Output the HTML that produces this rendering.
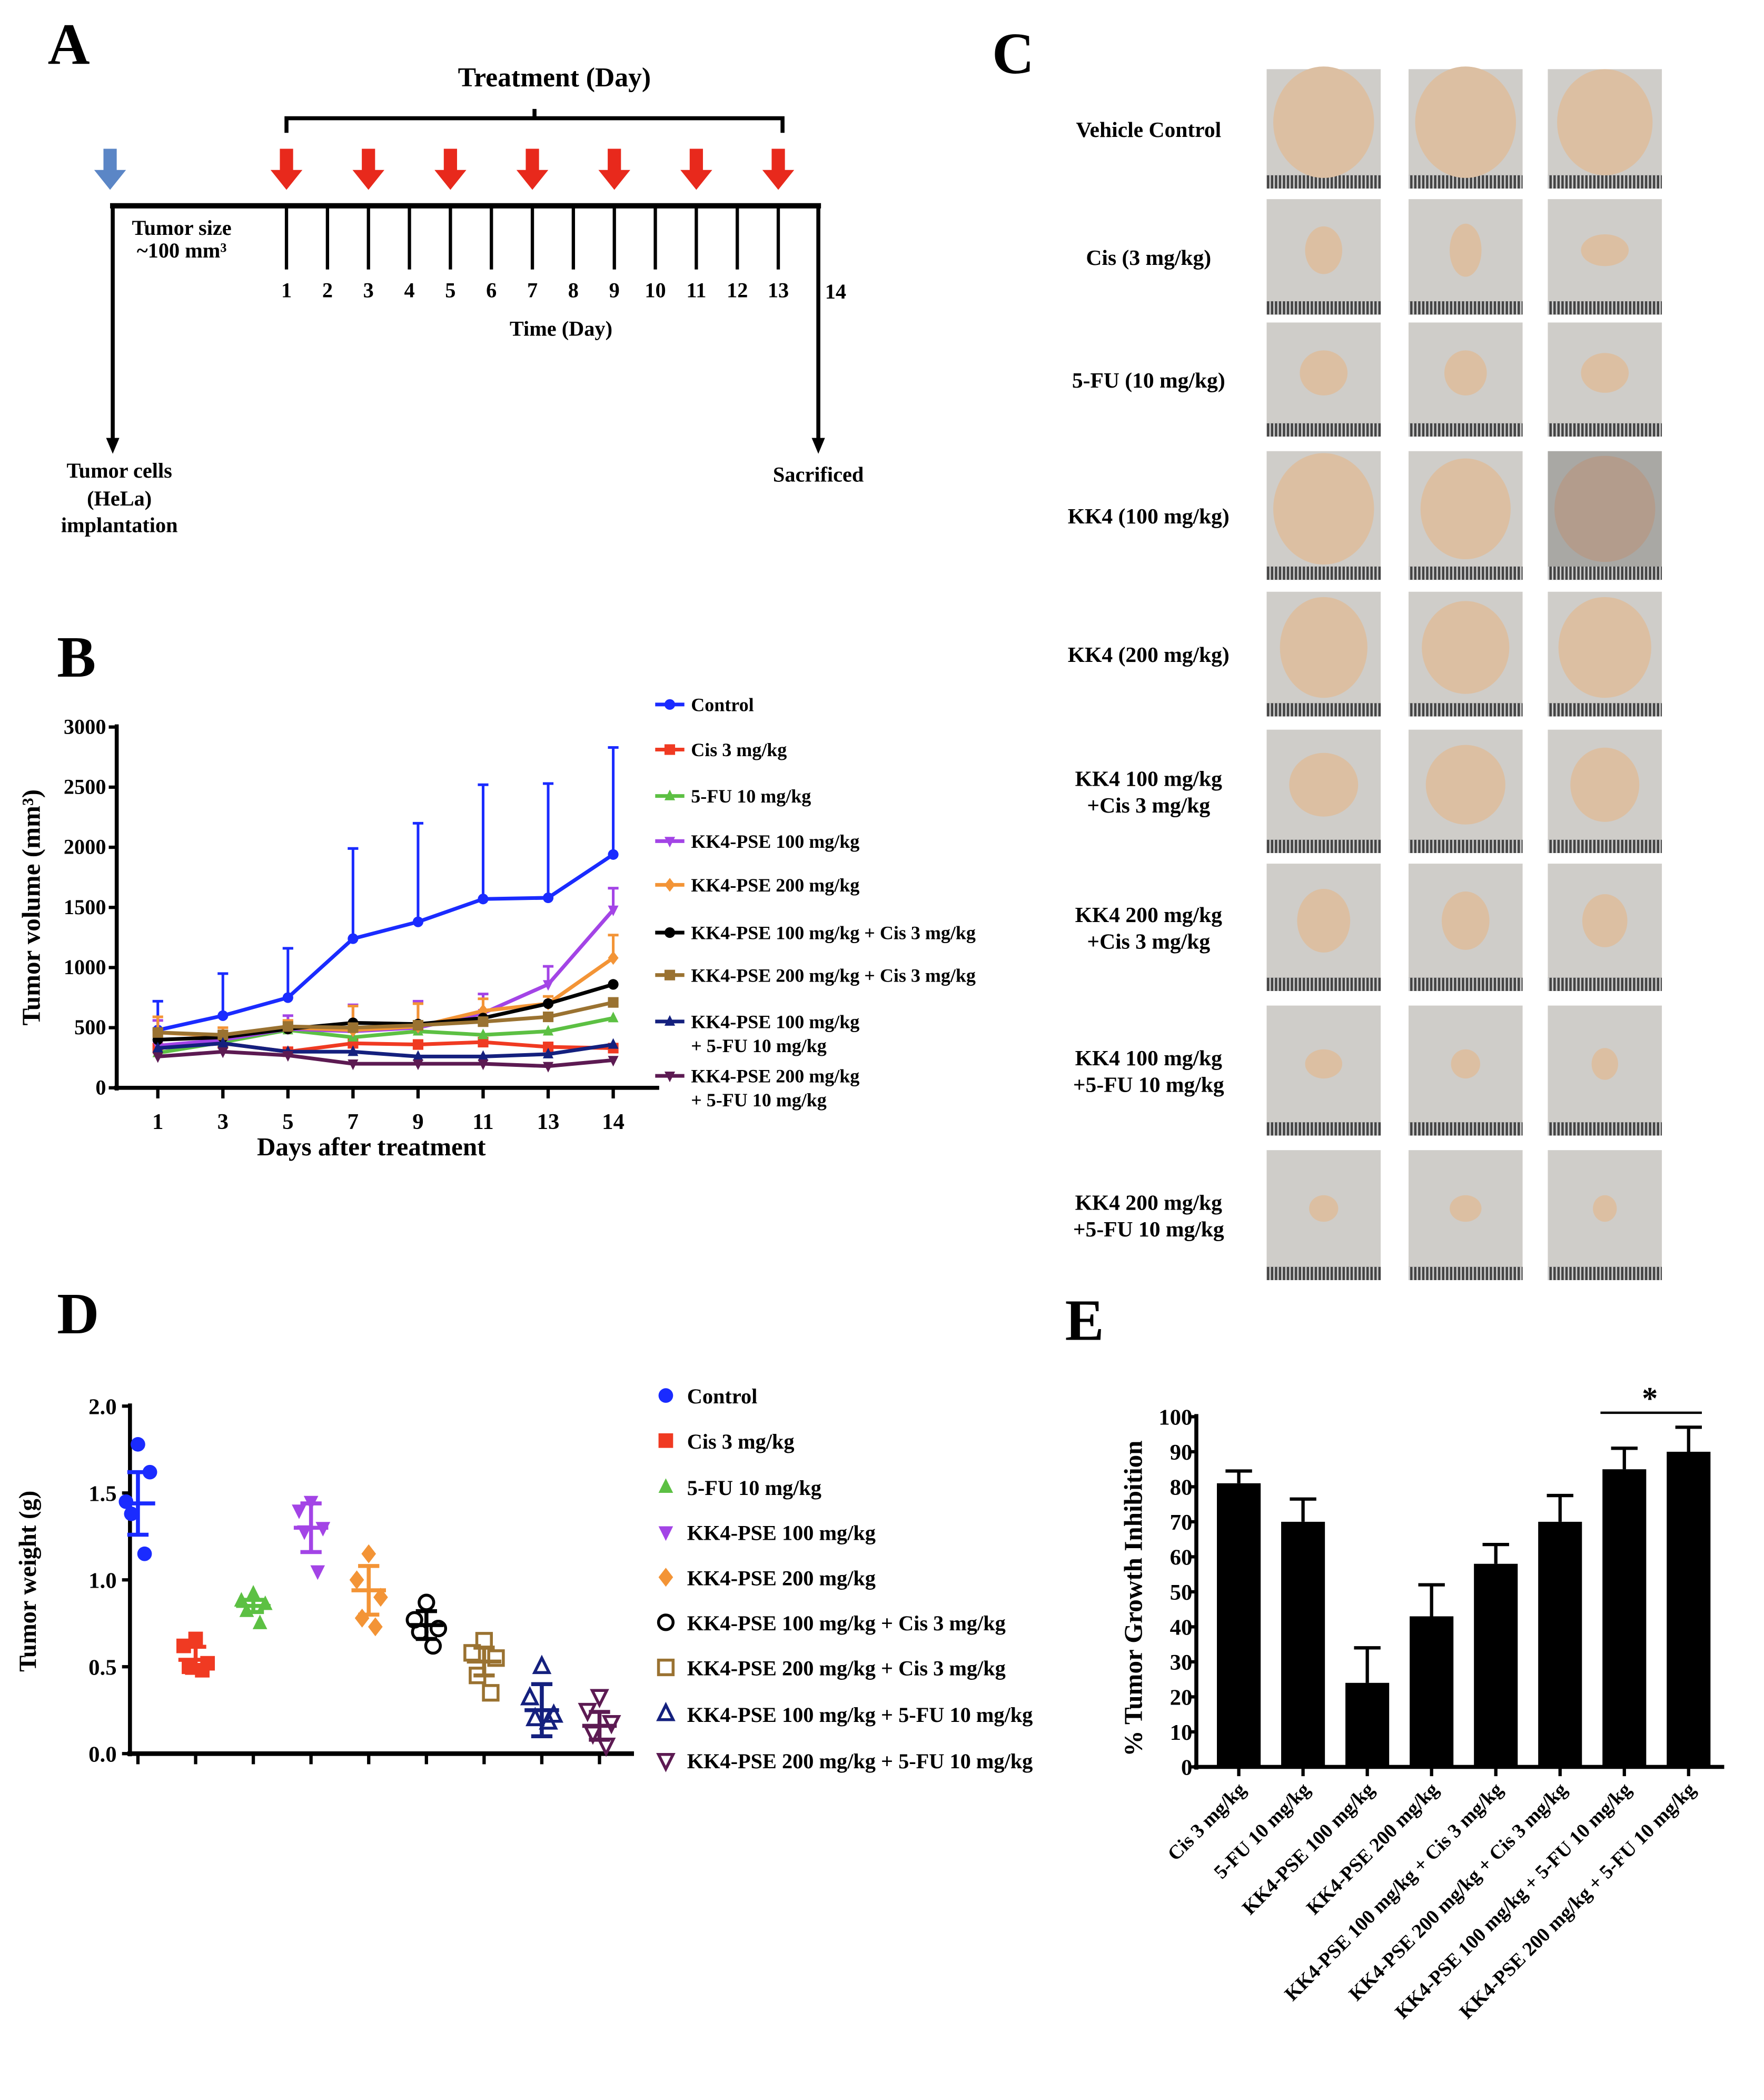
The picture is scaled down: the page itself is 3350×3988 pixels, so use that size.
<!DOCTYPE html>
<html><head><meta charset="utf-8">
<style>
html,body{margin:0;padding:0;background:#fff;}
svg{display:block;}
text{font-family:"Liberation Serif",serif;font-weight:bold;fill:#000;}
</style></head>
<body>
<svg id="fig" width="3350" height="3988" viewBox="0 0 1330 1583" xmlns="http://www.w3.org/2000/svg">
<rect width="1330" height="1583" fill="#fff"/>
<!-- PANEL A -->
<g id="panelA">
<text x="36" y="48" font-size="44">A</text>
<text x="418" y="65" font-size="20.5" text-anchor="middle">Treatment (Day)</text>
<path d="M216,100 V89 H590 V100 M403,89 V82" fill="none" stroke="#000" stroke-width="3"/>
<line x1="83" y1="155" x2="619" y2="155" stroke="#000" stroke-width="4"/>
<line x1="85" y1="155" x2="85" y2="332" stroke="#000" stroke-width="3"/>
<path d="M80,330 L90,330 L85,342 Z" fill="#000"/>
<line x1="617" y1="155" x2="617" y2="332" stroke="#000" stroke-width="3"/>
<path d="M612,330 L622,330 L617,342 Z" fill="#000"/>
<path d="M78,112 H88 V128 H95 L83,143 L71,128 H78 Z" fill="#5b86c6"/>
<text x="137" y="177" font-size="16" text-anchor="middle">Tumor size</text>
<text x="137" y="194" font-size="16" text-anchor="middle">~100 mm³</text>
<text x="423" y="253" font-size="16" text-anchor="middle">Time (Day)</text>
<text x="90" y="360" font-size="16" text-anchor="middle">Tumor cells</text>
<text x="90" y="381" font-size="16" text-anchor="middle">(HeLa)</text>
<text x="90" y="401" font-size="16" text-anchor="middle">implantation</text>
<text x="617" y="363" font-size="16" text-anchor="middle">Sacrificed</text>
<text x="630" y="225" font-size="16" text-anchor="middle">14</text>
</g>
<!-- PANEL B -->
<g id="panelB">
<text x="43" y="510" font-size="44">B</text>
</g>
<!-- PANEL C -->
<g id="panelC">
<text x="748" y="55" font-size="44">C</text>
</g>
<!-- PANEL D -->
<g id="panelD">
<text x="43" y="1005" font-size="44">D</text>
</g>
<!-- PANEL E -->
<g id="panelE">
<text x="803" y="1010" font-size="44">E</text>
</g>
</svg>
<script>
// ---------- Panel A data ----------
const timelineDays = [1,2,3,4,5,6,7,8,9,10,11,12,13];
const treatmentDays = [1,3,5,7,9,11,13];
// ---------- Panel B data ----------
const dayLabels = ["1","3","5","7","9","11","13","14"];
const volTicks = [0,500,1000,1500,2000,2500,3000];
const seriesNames = ["Control","Cis 3 mg/kg","5-FU 10 mg/kg","KK4-PSE 100 mg/kg","KK4-PSE 200 mg/kg","KK4-PSE 100 mg/kg + Cis 3 mg/kg","KK4-PSE 200 mg/kg + Cis 3 mg/kg","KK4-PSE 100 mg/kg|+ 5-FU 10 mg/kg","KK4-PSE 200 mg/kg|+ 5-FU 10 mg/kg"];
const volControl = [480,600,750,1240,1380,1570,1580,1940];
const volCis = [330,370,300,370,360,380,340,330];
const vol5FU = [290,380,480,420,470,440,470,580];
const volKK100 = [350,400,490,470,500,620,860,1480];
const volKK200 = [460,430,500,480,510,640,700,1080];
const volKK100Cis = [400,420,490,540,530,580,700,860];
const volKK200Cis = [460,440,510,500,520,550,590,710];
const volKK1005FU = [330,370,300,300,260,260,280,360];
const volKK2005FU = [260,300,270,200,200,200,180,230];
const errControl = [720,950,1160,1990,2200,2520,2530,2830];
const errKK100 = [560,470,600,690,720,780,1010,1660];
const errKK200 = [590,500,560,680,700,740,760,1270];
// ---------- Panel D data ----------
const wTicks = [0,0.5,1.0,1.5,2.0];
const wControl = [1.78,1.45,1.62,1.38,1.15];
const wCis = [0.66,0.62,0.52,0.50,0.48];
const w5FU = [0.92,0.88,0.86,0.82,0.75];
const wKK100 = [1.45,1.40,1.30,1.28,1.05];
const wKK200 = [1.15,1.00,0.90,0.78,0.73];
const wKK100Cis = [0.87,0.77,0.72,0.70,0.62];
const wKK200Cis = [0.65,0.58,0.55,0.45,0.35];
const wKK1005FU = [0.50,0.32,0.22,0.20,0.18];
const wKK2005FU = [0.33,0.25,0.18,0.12,0.05];
const wMeans = [1.44,0.54,0.85,1.30,0.94,0.74,0.53,0.25,0.16];
const wSEM = [0.18,0.075,0.035,0.14,0.14,0.08,0.08,0.15,0.08];
// ---------- Panel E data ----------
const eCategories = ["Cis 3 mg/kg","5-FU 10 mg/kg","KK4-PSE 100 mg/kg","KK4-PSE 200 mg/kg","KK4-PSE 100 mg/kg + Cis 3 mg/kg","KK4-PSE 200 mg/kg + Cis 3 mg/kg","KK4-PSE 100 mg/kg + 5-FU 10 mg/kg","KK4-PSE 200 mg/kg + 5-FU 10 mg/kg"];
const eValues = [81,70,24,43,58,70,85,90];
const eErrors = [3.5,6.5,10,9,5.5,7.5,6,7];
const eTicks = [0,10,20,30,40,50,60,70,80,90,100];
// ---------- Panel C labels ----------
const photoLabels = [["Vehicle Control"],["Cis (3 mg/kg)"],["5-FU (10 mg/kg)"],["KK4 (100 mg/kg)"],["KK4 (200 mg/kg)"],["KK4 100 mg/kg","+Cis 3 mg/kg"],["KK4 200 mg/kg","+Cis 3 mg/kg"],["KK4 100 mg/kg","+5-FU 10 mg/kg"],["KK4 200 mg/kg","+5-FU 10 mg/kg"]];
const tumorSizes = [[[38,42],[38,42],[36,40]],[[14,18],[12,20],[18,12]],[[18,17],[16,17],[18,15]],[[38,42],[34,38],[38,40]],[[33,38],[33,35],[35,38]],[[26,24],[30,30],[26,28]],[[20,24],[18,22],[17,20]],[[14,11],[11,11],[10,12]],[[11,10],[12,10],[9,10]]];

const NS="http://www.w3.org/2000/svg";
function mk(parent,tag,attrs,txt){const e=document.createElementNS(NS,tag);for(const k in attrs)e.setAttribute(k,attrs[k]);if(txt!==undefined)e.textContent=txt;parent.appendChild(e);return e;}

// ---- Panel A ----
const gA=document.getElementById('panelA');
const ax=d=>216+(d-1)*30.9;
timelineDays.forEach(d=>{
  const t=mk(gA,'line',{x1:ax(d),y1:155,x2:ax(d),y2:203,stroke:'#000','stroke-width':2.5});
  
  
  const l=mk(gA,'text',{x:ax(d),y:224,'font-size':16,'text-anchor':'middle'},String(d));
  
  
});
treatmentDays.forEach(d=>{
  const x=ax(d);
  const a=mk(gA,'path',{d:`M${x-5},112 H${x+5} V128 H${x+12} L${x},143 L${x-12},128 H${x-5} Z`,fill:'#e8291c'});
  
  
});

// ---- Panel B ----
const gB=document.getElementById('panelB');
const bx=i=>119+i*49.05, by=v=>820-v*(272/3000);
const colors=['#1a2bff','#f03a22','#5cc043','#a344e6','#f39436','#000','#9a7231','#14207e','#5c1a52'];
const shapes=['circle','square','tri','itri','diamond','circle','square','tri','itri'];
const volSeries=[volControl,volCis,vol5FU,volKK100,volKK200,volKK100Cis,volKK200Cis,volKK1005FU,volKK2005FU];
const errUps=[errControl,null,null,errKK100,errKK200,null,null,null,null];
function marker(g,shape,x,y,r,col,open){
  let e;const f=open?'none':col,sw=open?2.2:0;
  if(shape==='circle')e=mk(g,'circle',{cx:x,cy:y,r:r,fill:f,stroke:col,'stroke-width':sw});
  else if(shape==='square')e=mk(g,'rect',{x:x-r,y:y-r,width:2*r,height:2*r,fill:f,stroke:col,'stroke-width':sw});
  else if(shape==='tri')e=mk(g,'path',{d:`M${x},${y-r*1.2} L${x+r},${y+r*0.8} L${x-r},${y+r*0.8} Z`,fill:f,stroke:col,'stroke-width':sw});
  else if(shape==='itri')e=mk(g,'path',{d:`M${x},${y+r*1.2} L${x+r},${y-r*0.8} L${x-r},${y-r*0.8} Z`,fill:f,stroke:col,'stroke-width':sw});
  else e=mk(g,'path',{d:`M${x},${y-r*1.3} L${x+r},${y} L${x},${y+r*1.3} L${x-r},${y} Z`,fill:f,stroke:col,'stroke-width':sw});
  return e;
}
mk(gB,'line',{x1:88,y1:546,x2:88,y2:822,stroke:'#000','stroke-width':3});
mk(gB,'line',{x1:86,y1:820,x2:497,y2:820,stroke:'#000','stroke-width':3});
volTicks.forEach(v=>{
  mk(gB,'line',{x1:82,y1:by(v),x2:88,y2:by(v),stroke:'#000','stroke-width':2.5});
  const t=mk(gB,'text',{x:80,y:by(v)+5,'font-size':16,'text-anchor':'end'},String(v));
  
  
});
dayLabels.forEach((d,i)=>{
  mk(gB,'line',{x1:bx(i),y1:820,x2:bx(i),y2:828,stroke:'#000','stroke-width':2.5});
  const t=mk(gB,'text',{x:bx(i),y:851,'font-size':17,'text-anchor':'middle'},d);
  
  
});
let tt=mk(gB,'text',{x:280,y:871,'font-size':19.5,'text-anchor':'middle'},'Days after treatment');


tt=mk(gB,'text',{x:0,y:0,'font-size':19.5,'text-anchor':'middle',transform:'translate(30,684) rotate(-90)'},'Tumor volume (mm³)');


volSeries.forEach((s,k)=>{
  const g=mk(gB,'g',{});
  
  
  if(errUps[k]) errUps[k].forEach((u,i)=>{
    mk(g,'line',{x1:bx(i),y1:by(s[i]),x2:bx(i),y2:by(u),stroke:colors[k],'stroke-width':2});
    mk(g,'line',{x1:bx(i)-4,y1:by(u),x2:bx(i)+4,y2:by(u),stroke:colors[k],'stroke-width':2});
  });
  mk(g,'polyline',{points:s.map((v,i)=>bx(i)+','+by(v)).join(' '),fill:'none',stroke:colors[k],'stroke-width':2.8});
  s.forEach((v,i)=>marker(g,shapes[k],bx(i),by(v),4,colors[k],false));
});
const legY=[531,565,600,634,667,703,735,770,811];
seriesNames.forEach((n,k)=>{
  const g=mk(gB,'g',{});
  
  
  mk(g,'line',{x1:494,y1:legY[k],x2:516,y2:legY[k],stroke:colors[k],'stroke-width':2.8});
  marker(g,shapes[k],505,legY[k],4,colors[k],false);
  n.split('|').forEach((p,j)=>mk(g,'text',{x:521,y:legY[k]+5+j*18,'font-size':14.3},p));
});

// ---- Panel C ----
const gC=document.getElementById('panelC');
const colX=[955,1062,1167], rowY=[52,150,243,340,446,550,651,758,867], rowH=[90,87,86,97,94,93,96,98,98];
const defs=mk(document.getElementById('fig'),'defs',{});
const pat=mk(defs,'pattern',{id:'ruler',width:3,height:10,patternUnits:'userSpaceOnUse'});
mk(pat,'rect',{x:0,y:0,width:1.2,height:10,fill:'#cfcfcf'});
photoLabels.forEach((lab,r)=>{
  const cy=rowY[r]+rowH[r]/2;
  lab.forEach((l,j)=>{
    const t=mk(gC,'text',{x:866,y:cy+6+(j-(lab.length-1)/2)*20,'font-size':16.5,'text-anchor':'middle'},l);
    
    
  });
  colX.forEach((x,c)=>{
    const g=mk(gC,'g',{});
    
    
    const bg=(r===3&&c===2)?'#a9a8a4':'#cfcdc9';
    mk(g,'rect',{x:x,y:rowY[r],width:86,height:rowH[r],fill:bg});
    mk(g,'rect',{x:x,y:rowY[r]+rowH[r]-10,width:86,height:10,fill:'#444'});
    mk(g,'rect',{x:x,y:rowY[r]+rowH[r]-10,width:86,height:10,fill:'url(#ruler)'});
    const sz=tumorSizes[r][c];
    mk(g,'ellipse',{cx:x+43,cy:rowY[r]+(rowH[r]-10)/2,rx:sz[0],ry:sz[1],fill:r===3&&c===2?'#b39c8c':'#dcbfa2'});
  });
});

// ---- Panel D ----
const gD=document.getElementById('panelD');
const dx=i=>104+i*43.5, dy=v=>1322-v*131;
const wSeries=[wControl,wCis,w5FU,wKK100,wKK200,wKK100Cis,wKK200Cis,wKK1005FU,wKK2005FU];
const dColors=['#1a2bff','#f03a22','#5cc043','#a344e6','#f39436','#000','#9a7231','#14207e','#5c1a52'];
const dShapes=['circle','square','tri','itri','diamond','circle','square','tri','itri'];
const jit=[0,-9,9,-5,5];
mk(gD,'line',{x1:98,y1:1058,x2:98,y2:1324,stroke:'#000','stroke-width':3});
mk(gD,'line',{x1:96,y1:1322,x2:478,y2:1322,stroke:'#000','stroke-width':3.5});
wTicks.forEach(v=>{
  mk(gD,'line',{x1:92,y1:dy(v),x2:98,y2:dy(v),stroke:'#000','stroke-width':2.5});
  const t=mk(gD,'text',{x:88,y:dy(v)+6,'font-size':17,'text-anchor':'end'},v.toFixed(1));
  
  
});
tt=mk(gD,'text',{x:0,y:0,'font-size':18.5,'text-anchor':'middle',transform:'translate(27,1192) rotate(-90)'},'Tumor weight (g)');


wSeries.forEach((s,k)=>{
  const g=mk(gD,'g',{});
  
  
  const x=dx(k),open=k>=5,col=dColors[k];
  mk(g,'line',{x1:x,y1:1322,x2:x,y2:1330,stroke:'#000','stroke-width':2.5});
  s.forEach((v,i)=>marker(g,dShapes[k],x+jit[i],dy(v),5.5,col,open));
  const m=wMeans[k],e=wSEM[k];
  mk(g,'line',{x1:x-13,y1:dy(m),x2:x+13,y2:dy(m),stroke:col,'stroke-width':3});
  mk(g,'line',{x1:x,y1:dy(m-e),x2:x,y2:dy(m+e),stroke:col,'stroke-width':3});
  mk(g,'line',{x1:x-8,y1:dy(m+e),x2:x+8,y2:dy(m+e),stroke:col,'stroke-width':3});
  mk(g,'line',{x1:x-8,y1:dy(m-e),x2:x+8,y2:dy(m-e),stroke:col,'stroke-width':3});
});
const dLegY=[1052,1086,1121,1155,1189,1223,1257,1292,1327];
seriesNames.forEach((n,k)=>{
  const g=mk(gD,'g',{});
  
  
  marker(g,dShapes[k],502,dLegY[k],5.5,dColors[k],k>=5);
  mk(g,'text',{x:518,y:dLegY[k]+6,'font-size':16},n.replace('|',' '));
});

// ---- Panel E ----
const gE=document.getElementById('panelE');
const ex=i=>934+i*48.45, ey=v=>1332-v*2.64;
mk(gE,'line',{x1:902,y1:1066,x2:902,y2:1334,stroke:'#000','stroke-width':3});
mk(gE,'line',{x1:900,y1:1332,x2:1300,y2:1332,stroke:'#000','stroke-width':3});
eTicks.forEach(v=>{
  mk(gE,'line',{x1:896,y1:ey(v),x2:902,y2:ey(v),stroke:'#000','stroke-width':2.5});
  const t=mk(gE,'text',{x:899,y:ey(v)+6,'font-size':17,'text-anchor':'end'},String(v));
  
  
});
tt=mk(gE,'text',{x:0,y:0,'font-size':19.5,'text-anchor':'middle',transform:'translate(861,1205) rotate(-90)'},'% Tumor Growth Inhibition');


eValues.forEach((v,i)=>{
  const x=ex(i);
  const b=mk(gE,'rect',{x:x-16.5,y:ey(v),width:33,height:ey(0)-ey(v),fill:'#000'});
  
  
  mk(gE,'line',{x1:x,y1:ey(v),x2:x,y2:ey(v+eErrors[i]),stroke:'#000','stroke-width':2.5});
  mk(gE,'line',{x1:x-10,y1:ey(v+eErrors[i]),x2:x+10,y2:ey(v+eErrors[i]),stroke:'#000','stroke-width':2.5});
  mk(gE,'line',{x1:x,y1:1332,x2:x,y2:1339,stroke:'#000','stroke-width':2.5});
  const t=mk(gE,'text',{x:0,y:0,'font-size':15,'text-anchor':'end',transform:`translate(${x+6},${1350}) rotate(-45)`},eCategories[i]);
  
  
});
const sig=mk(gE,'line',{x1:ex(6)-18,y1:1065,x2:ex(7)+10,y2:1065,stroke:'#000','stroke-width':1.8});


const star=mk(gE,'text',{x:(ex(6)+ex(7))/2-5,y:1062,'font-size':24,'text-anchor':'middle'},'*');


</script>
</body></html>
